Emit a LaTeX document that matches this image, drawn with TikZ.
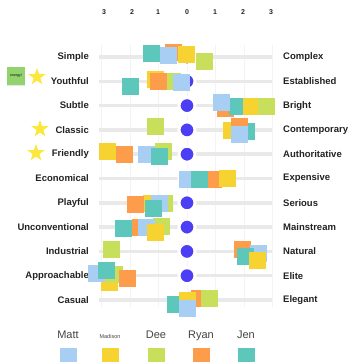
\documentclass[tikz,border=0pt]{standalone}
\usepackage{fontspec}
\setmainfont{Liberation Sans}
\usetikzlibrary{shapes.geometric,shadows}

\definecolor{mattblue}{RGB}{169,206,244}
\definecolor{madyellow}{RGB}{247,211,50}
\definecolor{deegreen}{RGB}{200,223,92}
\definecolor{ryanorange}{RGB}{253,156,74}
\definecolor{jenteal}{RGB}{94,199,187}
\definecolor{dotblue}{RGB}{76,62,245}
\definecolor{trackgray}{RGB}{233,233,233}
\definecolor{gridgray}{RGB}{243,243,243}
\definecolor{stargold}{RGB}{252,232,60}
\definecolor{notegreen}{RGB}{146,211,110}
\definecolor{ink}{RGB}{34,34,34}

\begin{document}
\begin{tikzpicture}[x=1pt,y=-1pt,
    note/.style={rectangle,minimum size=17pt,inner sep=0pt,
      drop shadow={shadow xshift=0.4pt,shadow yshift=-0.9pt,opacity=0.2}},
    lab/.style={text=ink,font=\bfseries\fontsize{9.5}{11}\selectfont,inner sep=0pt},
    track/.style={trackgray,line width=3.5pt},
    gridline/.style={gridgray,line width=0.8pt},
    dot/.style={circle,fill=dotblue,draw=white,line width=3pt,minimum size=16pt,inner sep=0pt},
    goldstar/.style={star,star points=5,star point ratio=2.5,fill=stargold,minimum size=18pt,inner sep=0pt}]
  \useasboundingbox (0,0) rectangle (351,362);

  % scale
  \foreach \x in {101.5,130,158.5,187,215.5,244,272.5}
    \draw[gridline] (\x,45) -- (\x,307);
  \foreach \n/\x [count=\j] in {3/104,2/132,1/158,0/187,1/215,2/243,3/271}
    \node[text=ink,font=\bfseries\fontsize{7}{8}\selectfont] (ax\j) at (\x,12) {\n};

  % rows: word pairs, track and the zero dot
  \foreach \lo/\hi [count=\i from 0] in {Simple/Complex,Youthful/Established,
      Subtle/Bright,Classic/Contemporary,Friendly/Authoritative,
      Economical/Expensive,Playful/Serious,Unconventional/Mainstream,
      Industrial/Natural,Approachable/Elite,Casual/Elegant}{
    \pgfmathsetmacro\y{57+24.3*\i}
    \draw[track] (99,\y) -- (272,\y);
    \node[lab,anchor=east] (lo\i) at (89,\y) {\lo};
    \node[lab,anchor=west] (hi\i) at (283,\y) {\hi};
    \node[dot] (dot\i) at (187,\y) {};
  }

  % sticky notes, in stacking order
  \foreach \x/\y/\c [count=\n] in {
      151/53/jenteal,173/52/ryanorange,168/55/mattblue,186/54/madyellow,204/61/deegreen,
      130/86/jenteal,155/79/madyellow,172/81/deegreen,158/81/ryanorange,181/82/mattblue,
      225/108/ryanorange,237/106/jenteal,251/106/madyellow,266/106/deegreen,221/102/mattblue,
      155/126/deegreen,231/130/madyellow,246/131/jenteal,239/126/ryanorange,239/134/mattblue,
      107/151/madyellow,124/154/ryanorange,146/154/mattblue,163/151/deegreen,159/156/jenteal,
      213/179/ryanorange,187/179/mattblue,199/179/jenteal,227/178/madyellow,
      151/203/madyellow,164/203/deegreen,159/203/mattblue,135/204/ryanorange,153/208/jenteal,
      140/227/ryanorange,161/226/deegreen,146/227/mattblue,123/228/jenteal,155/232/madyellow,
      111/249/deegreen,
      242/249/ryanorange,258/253/mattblue,245/256/jenteal,257/260/madyellow,
      109/282/madyellow,114/274/deegreen,96/273/mattblue,106/270/jenteal,127/278/ryanorange,
      175/304/jenteal,199/298/ryanorange,209/298/deegreen,187/300/madyellow,187/308/mattblue}
    \node[note,fill=\c] (note\n) at (\x,\y) {};

  % side remarks
  \node[note,fill=notegreen,minimum size=18pt,font=\fontsize{3.5}{4}\selectfont] (energy) at (16,76) {energy!};
  \node[goldstar] (star1) at (37,77) {};
  \node[goldstar] (star2) at (40,129) {};
  \node[goldstar] (star3) at (36,153) {};

  % key
  \foreach \who/\c/\x/\fs in {Matt/mattblue/68/11,Madison/madyellow/110/5.5,
      Dee/deegreen/156/11,Ryan/ryanorange/201/11,Jen/jenteal/246/11}{
    \node[text=ink!85,font=\fontsize{\fs}{\fs}\selectfont,anchor=base,inner sep=0pt] (name\who) at (\x,338) {\who};
    \node[note,fill=\c,anchor=north] (key\who) at (\x,348) {};
  }
\end{tikzpicture}
\end{document}
